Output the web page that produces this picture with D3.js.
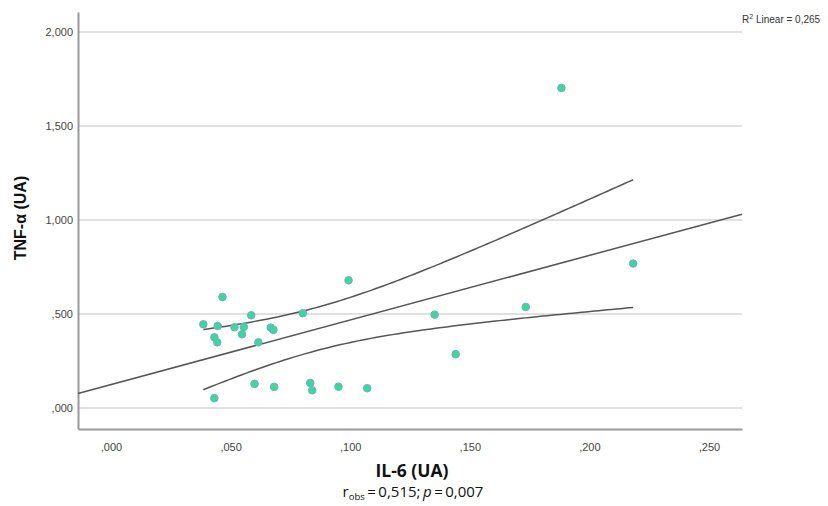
<!DOCTYPE html>
<html><head><meta charset="utf-8">
<script src="https://cdn.jsdelivr.net/npm/d3@7"></script>
<style>body{margin:0;background:#fff}svg{display:block}</style>
</head><body>
<svg id="c" width="828" height="506"></svg>
<script>
// IL-6 (UA) values
const il6 = [0.0386,0.0466,0.0432,0.0444,0.0446,0.0516,0.0555,0.0548,0.0586,0.0616,0.0668,0.0679,0.0600,0.0682,0.0432,
             0.0802,0.0993,0.1353,0.1734,0.1441,0.0833,0.0841,0.0951,0.1071,0.2183,0.1883];
// TNF-alpha (UA) values
const tnf = [0.445,0.590,0.376,0.349,0.436,0.429,0.431,0.392,0.493,0.349,0.427,0.415,0.128,0.112,0.052,
             0.504,0.679,0.496,0.537,0.286,0.133,0.094,0.113,0.105,0.768,1.702];
const xTicks = [0,0.05,0.10,0.15,0.20,0.25];
const yTicks = [0,0.5,1.0,1.5,2.0];
const yTickLabels = [",000",",500","1,000","1,500","2,000"];

const svg = d3.select("#c");
const L=78, R=742, T=12, B=429;
const x = d3.scaleLinear().domain([-0.0138,0.2638]).range([L,R]);
const y = d3.scaleLinear().domain([-0.112,2.106]).range([B,T]);
const fmt = v => d3.format(".3f")(v).replace(/^0/,"").replace(".",",");

// gridlines
svg.append("g").selectAll("line").data(yTicks).join("line")
  .attr("x1",L).attr("x2",R).attr("y1",d=>y(d)).attr("y2",d=>y(d))
  .attr("stroke","#d6d6d6").attr("stroke-width",1.5);

// axes
const gx = svg.append("g").attr("transform",`translate(0,${B})`)
  .call(d3.axisBottom(x).tickValues(xTicks).tickSize(0).tickPadding(14).tickFormat(fmt));
gx.select(".domain").attr("stroke","#9a9a9a").attr("stroke-width",2);
gx.selectAll("text").attr("font-family","Liberation Sans, Arial").attr("font-size",11).attr("fill","#444");
const gy = svg.append("g").attr("transform",`translate(${L},0)`)
  .call(d3.axisLeft(y).tickValues(yTicks).tickSize(0).tickPadding(5).tickFormat((v,i)=>yTickLabels[i]));
gy.select(".domain").attr("stroke","#9a9a9a").attr("stroke-width",2);
gy.selectAll("text").attr("font-family","Liberation Sans, Arial").attr("font-size",11).attr("fill","#444");

// regression
const n = il6.length;
const mx = d3.mean(il6), my = d3.mean(tnf);
let sxx=0, sxy=0;
for(let i=0;i<n;i++){sxx+=(il6[i]-mx)**2; sxy+=(il6[i]-mx)*(tnf[i]-my);}
const b = sxy/sxx, a = my-b*mx;
let sse=0; for(let i=0;i<n;i++){sse+=(tnf[i]-a-b*il6[i])**2;}
const s = Math.sqrt(sse/(n-2));
const tcrit = 2.064;
const xd = x.domain();
const line = d3.line().x(d=>x(d[0])).y(d=>y(d[1]));
svg.append("path").attr("d",line([[xd[0],a+b*xd[0]],[xd[1],a+b*xd[1]]]))
  .attr("fill","none").attr("stroke","#555").attr("stroke-width",1.5);
const xs = d3.range(0,101).map(i=>d3.min(il6)+(d3.max(il6)-d3.min(il6))*i/100);
const hw = v => tcrit*s*Math.sqrt(1/n+(v-mx)**2/sxx);
[1,-1].forEach(sg=>{
  svg.append("path").attr("d",line(xs.map(v=>[v,a+b*v+sg*hw(v)])))
    .attr("fill","none").attr("stroke","#555").attr("stroke-width",1.5);
});

// points
svg.append("g").selectAll("circle").data(il6.map((v,i)=>[v,tnf[i]])).join("circle")
  .attr("cx",d=>x(d[0])).attr("cy",d=>y(d[1])).attr("r",3.8)
  .attr("fill","#3ed98c").attr("stroke","#72a8ec").attr("stroke-width",1);

// labels
svg.append("text").attr("x",742).attr("y",23).attr("font-family","Liberation Sans, Arial")
  .attr("font-size",10).attr("fill","#333")
  .html('R<tspan dy="-4" font-size="7">2</tspan><tspan dy="4"> Linear = 0,265</tspan>');
svg.append("text").attr("transform","translate(26,218) rotate(-90)").attr("text-anchor","middle")
  .attr("font-family","Liberation Sans, Arial").attr("font-weight","bold").attr("font-size",16).attr("fill","#111")
  .text("TNF-α (UA)");
svg.append("text").attr("x",412).attr("y",477).attr("text-anchor","middle")
  .attr("font-family","Open Sans").attr("font-weight","bold").attr("font-size",17.5).attr("fill","#111")
  .text("IL-6 (UA)");
svg.append("text").attr("x",413).attr("y",497).attr("text-anchor","middle")
  .attr("font-family","Open Sans").attr("font-size",15).attr("fill","#111")
  .html('r<tspan dy="3" font-size="9.5">obs</tspan><tspan dy="-3">\u2009=\u20090,515;\u2009</tspan><tspan font-style="italic">p</tspan><tspan>\u2009=\u20090,007</tspan>');
</script>
</body></html>
